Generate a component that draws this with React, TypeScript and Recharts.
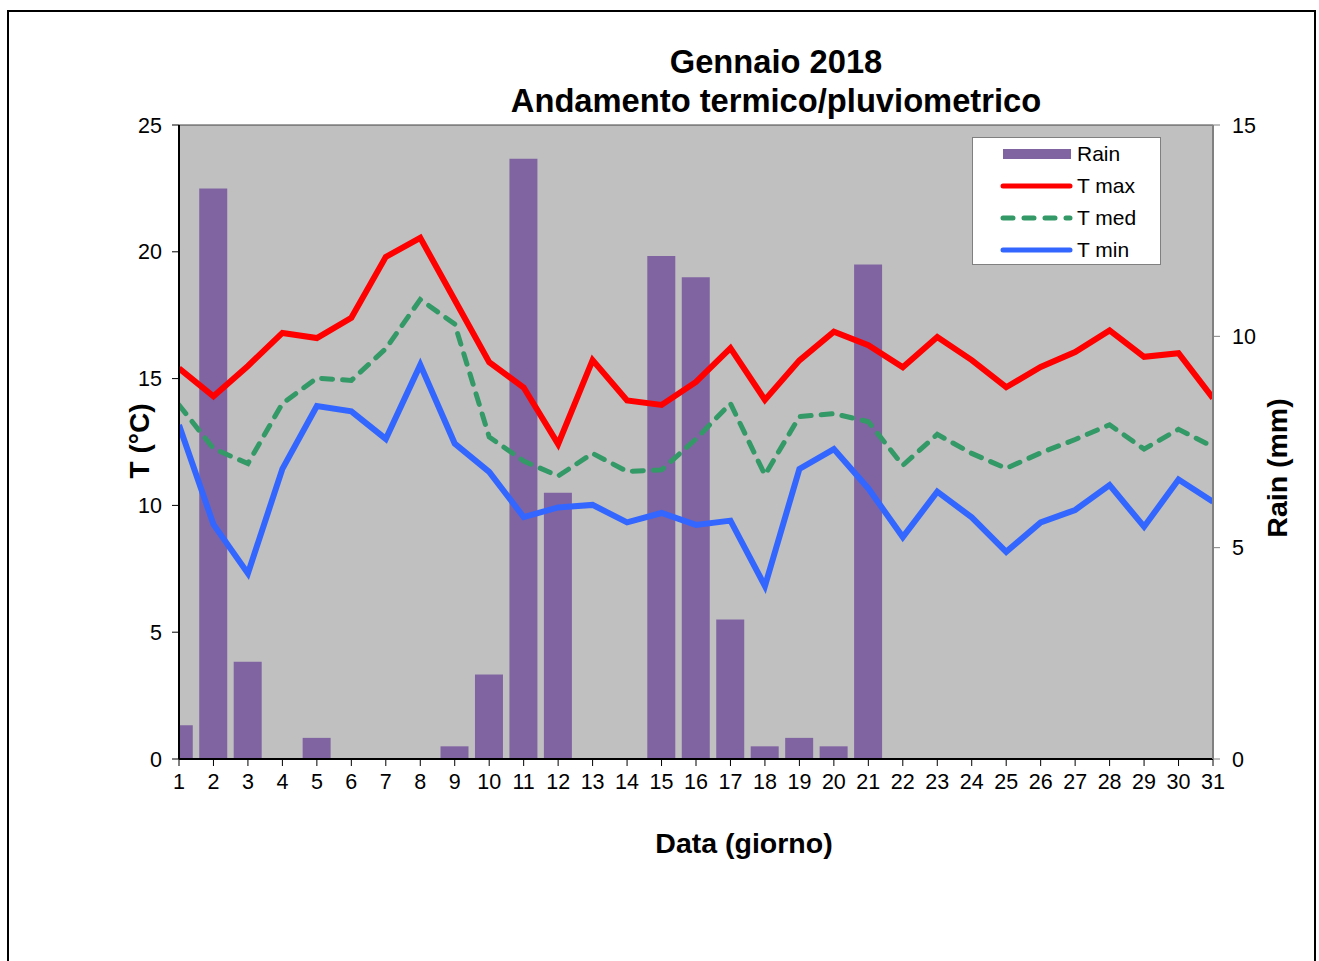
import {
  ComposedChart,
  Bar,
  Line,
  XAxis,
  YAxis,
  CartesianGrid,
} from "recharts";

const days = Array.from({ length: 31 }, (_, i) => i + 1);

const rain = [
  0.8, 13.5, 2.3, 0, 0.5, 0, 0, 0, 0.3, 2.0, 14.2, 6.3, 0, 0, 11.9, 11.4, 3.3,
  0.3, 0.5, 0.3, 11.7, 0, 0, 0, 0, 0, 0, 0, 0, 0, 0,
];
const tMax = [
  15.4, 14.3, 15.5, 16.8, 16.6, 17.4, 19.8, 20.55, 18.1, 15.65, 14.65, 12.42,
  15.73, 14.14, 13.96, 14.87, 16.2, 14.16, 15.72, 16.85, 16.32, 15.45, 16.64,
  15.73, 14.66, 15.46, 16.05, 16.9, 15.86, 16.0, 14.23,
];
const tMed = [
  13.96, 12.24, 11.65, 14.02, 15.02, 14.93, 16.18, 18.12, 17.15, 12.7, 11.75,
  11.16, 12.05, 11.34, 11.4, 12.62, 14.02, 11.2, 13.5, 13.62, 13.3, 11.58, 12.8,
  12.05, 11.46, 12.07, 12.6, 13.18, 12.22, 13.0, 12.31,
];
const tMin = [
  13.17, 9.25, 7.32, 11.44, 13.92, 13.71, 12.62, 15.54, 12.44, 11.32, 9.54, 9.92,
  10.02, 9.33, 9.7, 9.23, 9.4, 6.82, 11.44, 12.22, 10.67, 8.75, 10.54, 9.53,
  8.17, 9.33, 9.82, 10.8, 9.16, 11.02, 10.14,
];

const tTicks = [0, 5, 10, 15, 20, 25];
const rainTicks = [0, 5, 10, 15];

const data = days.map((d, i) => ({
  day: d,
  rain: rain[i],
  tMax: tMax[i],
  tMed: tMed[i],
  tMin: tMin[i],
}));

const FONT = "Arial, 'Liberation Sans', sans-serif";

const legendItems = [
  { label: "Rain", kind: "bar", color: "#8064A2" },
  { label: "T max", kind: "line", color: "#FF0000" },
  { label: "T med", kind: "dash", color: "#339966" },
  { label: "T min", kind: "line", color: "#3366FF" },
];

export default function App() {
  const tick = { fontFamily: FONT, fontSize: 21.5, fill: "#000" };
  return (
    <div
      style={{
        position: "fixed",
        left: 0,
        top: 0,
        width: 1319,
        height: 961,
        background: "#fff",
        overflow: "hidden",
        fontFamily: FONT,
      }}
    >
      <div
        style={{
          position: "absolute",
          left: 7,
          top: 10,
          width: 1305,
          height: 970,
          border: "2px solid #000",
        }}
      />
      <div
        style={{
          position: "absolute",
          left: 0,
          width: 1552,
          top: 42,
          textAlign: "center",
          fontWeight: "bold",
          fontSize: 32.7,
          lineHeight: "39px",
          color: "#000",
        }}
      >
        <div>Gennaio 2018</div>
        <div>Andamento termico/pluviometrico</div>
      </div>
      <div style={{ position: "absolute", left: 0, top: 0 }}>
        <ComposedChart
          width={1319}
          height={961}
          data={data}
          margin={{ top: 125, right: 46, left: 119, bottom: 172 }}
        >
          <CartesianGrid
            vertical={false}
            fill="#C0C0C0"
            stroke="#404040"
            strokeWidth={1}
          />
          <XAxis
            dataKey="day"
            type="number"
            domain={[1, 31]}
            ticks={days}
            interval={0}
            allowDataOverflow
            height={30}
            tick={tick}
            tickSize={7}
            tickMargin={8}
            axisLine={{ stroke: "#000", strokeWidth: 2 }}
            tickLine={{ stroke: "#000" }}
          />
          <YAxis
            yAxisId="t"
            domain={[0, 25]}
            ticks={tTicks}
            width={60}
            tick={tick}
            tickSize={7}
            tickMargin={10}
            axisLine={{ stroke: "#000", strokeWidth: 2 }}
            tickLine={{ stroke: "#000" }}
          />
          <YAxis
            yAxisId="r"
            orientation="right"
            domain={[0, 15]}
            ticks={rainTicks}
            width={60}
            tick={tick}
            tickSize={7}
            tickMargin={12}
            axisLine={{ stroke: "#808080", strokeWidth: 2 }}
            tickLine={{ stroke: "#808080" }}
          />
          <Bar
            yAxisId="r"
            dataKey="rain"
            fill="#8064A2"
            barSize={28}
            isAnimationActive={false}
          />
          <Line
            yAxisId="t"
            dataKey="tMed"
            stroke="#339966"
            strokeWidth={5}
            strokeDasharray="11 10"
            strokeLinecap="round"
            dot={false}
            isAnimationActive={false}
          />
          <Line
            yAxisId="t"
            dataKey="tMin"
            stroke="#3366FF"
            strokeWidth={6}
            dot={false}
            isAnimationActive={false}
          />
          <Line
            yAxisId="t"
            dataKey="tMax"
            stroke="#FF0000"
            strokeWidth={6}
            dot={false}
            isAnimationActive={false}
          />
        </ComposedChart>
      </div>
      <div
        style={{
          position: "absolute",
          left: 140,
          top: 441,
          transform: "translate(-50%, -50%) rotate(-90deg)",
          fontWeight: "bold",
          fontSize: 28,
          whiteSpace: "nowrap",
        }}
      >
        T (°C)
      </div>
      <div
        style={{
          position: "absolute",
          left: 1277,
          top: 468,
          transform: "translate(-50%, -50%) rotate(-90deg)",
          fontWeight: "bold",
          fontSize: 28.5,
          whiteSpace: "nowrap",
        }}
      >
        Rain (mm)
      </div>
      <div
        style={{
          position: "absolute",
          left: 744,
          top: 843,
          transform: "translate(-50%, -50%)",
          fontWeight: "bold",
          fontSize: 28.5,
          whiteSpace: "nowrap",
        }}
      >
        Data (giorno)
      </div>
      <div
        style={{
          position: "absolute",
          left: 972,
          top: 137,
          width: 187,
          height: 126,
          background: "#fff",
          border: "1px solid #808080",
        }}
      >
        {legendItems.map((it) => (
          <div
            key={it.label}
            style={{ display: "flex", alignItems: "center", height: 32 }}
          >
            <svg width={105} height={14} style={{ display: "block" }}>
              {it.kind === "bar" ? (
                <rect x={30} y={2} width={68} height={10} fill={it.color} />
              ) : (
                <line
                  x1={30}
                  x2={97}
                  y1={7}
                  y2={7}
                  stroke={it.color}
                  strokeWidth={5}
                  strokeLinecap="round"
                  strokeDasharray={it.kind === "dash" ? "10 11" : undefined}
                />
              )}
            </svg>
            <span style={{ fontSize: 21, marginLeft: -1 }}>{it.label}</span>
          </div>
        ))}
      </div>
    </div>
  );
}
